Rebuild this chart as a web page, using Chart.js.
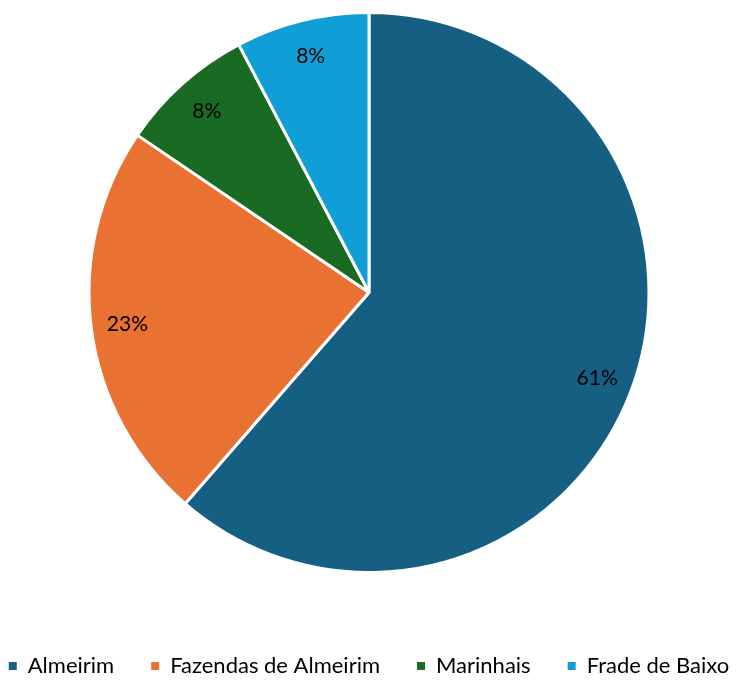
<!DOCTYPE html>
<html>
<head>
<meta charset="utf-8">
<script src="https://cdn.jsdelivr.net/npm/chart.js@4"></script>
<style>
  html, body { margin: 0; padding: 0; background: #fff; }
  #wrap { width: 738px; height: 682px; }
</style>
</head>
<body>
<div id="wrap"><canvas id="myChart"></canvas></div>
<script>
const categories = ["Almeirim", "Fazendas de Almeirim", "Marinhais", "Frade de Baixo"];
const shares = [61.4, 23.1, 7.8, 7.7];
const colors = ["#156082", "#E97132", "#196B24", "#0F9ED5"];

// draws the % labels inside each slice, near the outer edge
const sliceLabels = {
  id: "sliceLabels",
  afterDatasetsDraw(chart) {
    const { ctx } = chart;
    const meta = chart.getDatasetMeta(0);
    const total = shares.reduce((a, b) => a + b, 0);
    ctx.save();
    ctx.font = "21px Lato";
    ctx.fillStyle = "#000";
    ctx.textAlign = "center";
    ctx.textBaseline = "middle";
    meta.data.forEach((arc, i) => {
      const mid = (arc.startAngle + arc.endAngle) / 2;
      const r = arc.outerRadius * 0.87;
      const x = arc.x + Math.cos(mid) * r;
      const y = arc.y + Math.sin(mid) * r;
      ctx.fillText(Math.round((shares[i] / total) * 100) + "%", x, y);
    });
    ctx.restore();
  },
};

new Chart(document.querySelector("#myChart"), {
  type: "pie",
  data: {
    labels: categories,
    datasets: [
      {
        data: shares,
        backgroundColor: colors,
        borderColor: "#fff",
        borderWidth: 3,
      },
    ],
  },
  options: {
    responsive: true,
    maintainAspectRatio: false,
    animation: false,
    // negative side padding gives the legend row enough width
    layout: { padding: { top: 11, bottom: -5, left: -30, right: -30 } },
    plugins: {
      legend: {
        position: "bottom",
        title: { display: true, text: "", padding: 16, font: { size: 10 } },
        labels: {
          font: { family: "Lato", size: 22, lineHeight: 1 },
          color: "#000",
          usePointStyle: true,
          pointStyle: "rect",
          boxWidth: 8,
          boxHeight: 11,
          padding: 37,
        },
      },
      tooltip: { enabled: false },
    },
  },
  plugins: [sliceLabels],
});
</script>
</body>
</html>
